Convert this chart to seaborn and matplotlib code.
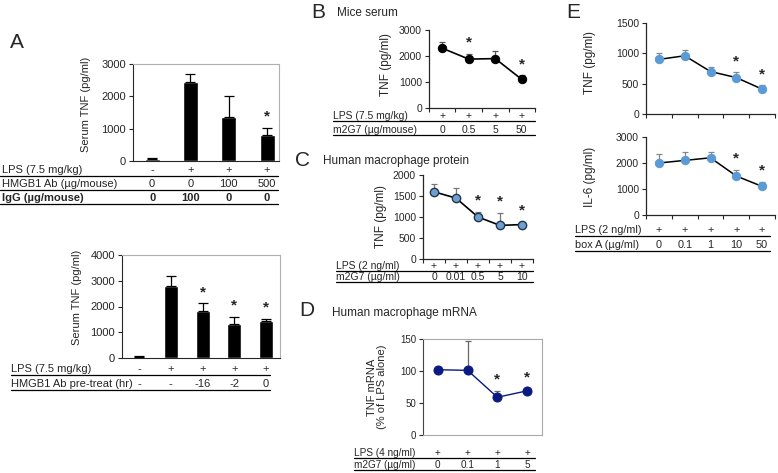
import numpy as np
import matplotlib
matplotlib.use('Agg')
import matplotlib.pyplot as plt
from matplotlib.lines import Line2D
from matplotlib.transforms import blended_transform_factory
import seaborn as sns

sns.set_style('ticks')
plt.rcParams['font.family'] = ['Liberation Sans', 'DejaVu Sans']

# ---- data ----
a1_tnf = [70, 2430, 1370, 800]
a1_err = [20, 250, 630, 220]
a1_lps = ['-', '+', '+', '+']
a1_ab = ['0', '0', '100', '500']
a1_igg = ['0', '100', '0', '0']
a1_sig = [3]

a2_tnf = [50, 2800, 1830, 1330, 1420]
a2_err = [10, 380, 300, 280, 100]
a2_lps = ['-', '+', '+', '+', '+']
a2_pre = ['-', '-', '-16', '-2', '0']
a2_sig = [2, 3, 4]

b_tnf = [2300, 1880, 1900, 1100]
b_err = [250, 200, 280, 150]
b_lps = ['+', '+', '+', '+']
b_dose = ['0', '0.5', '5', '50']
b_sig = [1, 3]

c_tnf = [1600, 1450, 1000, 800, 820]
c_err = [180, 230, 120, 300, 60]
c_lps = ['+', '+', '+', '+', '+']
c_dose = ['0', '0.01', '0.5', '5', '10']
c_sig = [2, 3, 4]

d_mrna = [102, 101, 59, 69]
d_err = [3, 46, 10, 3]
d_lps = ['+', '+', '+', '+']
d_dose = ['0', '0.1', '1', '5']
d_sig = [2, 3]

e_tnf = [900, 960, 700, 600, 410]
e_tnf_err = [100, 90, 80, 90, 60]
e_il6 = [2000, 2100, 2200, 1500, 1100]
e_il6_err = [330, 330, 220, 230, 180]
e_lps = ['+', '+', '+', '+', '+']
e_dose = ['0', '0.1', '1', '10', '50']
e_sig = [3, 4]

W, H = 778, 473
fig = plt.figure(figsize=(W / 100, H / 100), dpi=100)


def box(x0, y0, x1, y1):
    return [x0 / W, 1 - y1 / H, (x1 - x0) / W, (y1 - y0) / H]


def ftext(x, y, s, **kw):
    fig.text(x / W, 1 - y / H, s, **kw)


def hline(x0, x1, y, color='black', lw=0.9):
    fig.add_artist(Line2D([x0 / W, x1 / W], [1 - y / H] * 2, color=color, lw=lw))


def row(ax, y, values, size, **kw):
    trans = blended_transform_factory(ax.transData, fig.transFigure)
    for i, v in enumerate(values):
        ax.text(i, 1 - y / H, v, transform=trans, ha='center', va='center', fontsize=size, **kw)


def stars(ax, vals, errs, sig, off=3):
    for i in sig:
        ax.annotate('*', (i, vals[i] + errs[i]), xytext=(0, off), textcoords='offset points',
                    ha='center', va='bottom', fontsize=11, fontweight='bold')


def upper_err(ax, vals, errs, color, cap=3, lw=0.9):
    n = len(vals)
    ax.errorbar(np.arange(n), vals, yerr=[np.zeros(n), errs], fmt='none', ecolor=color,
                elinewidth=lw, capsize=cap, capthick=lw, zorder=1)


def excel_axes(ax, n, ylim, yticks, size):
    ax.set_xlim(-0.5, n - 0.5)
    ax.set_ylim(*ylim)
    ax.set_yticks(yticks)
    ax.set_xticks(np.arange(n + 1) - 0.5)
    ax.set_xticklabels([])
    ax.tick_params(axis='both', direction='out', length=3, width=0.8, labelsize=size, pad=2)
    sns.despine(ax=ax)
    for s in ['left', 'bottom']:
        ax.spines[s].set_linewidth(0.9)
    ax.set_xlabel('')
    ax.set_ylabel('')


# ---- panel A, top ----
ax = fig.add_axes(box(133, 64, 279, 161))
sns.barplot(x=list(range(len(a1_tnf))), y=a1_tnf, color='black', width=0.39,
            saturation=1, errorbar=None, ax=ax)
upper_err(ax, a1_tnf, a1_err, 'black', cap=3.5)
ax.set_xlim(-0.5, 3.31)
ax.set_ylim(0, 3000)
ax.set_yticks([0, 1000, 2000, 3000])
ax.set_xticks([])
ax.tick_params(axis='y', length=3, labelsize=8, pad=2)
for s in ['top', 'right']:
    ax.spines[s].set_color('#b0b0b0')
stars(ax, a1_tnf, a1_err, a1_sig)
ax.set_ylabel('')
ftext(86, 104, 'Serum TNF (pg/ml)', rotation=90, ha='center', va='center', fontsize=8)
ftext(17, 43, 'A', fontsize=15, ha='center', va='center')
ftext(2, 170, 'LPS (7.5 mg/kg)', fontsize=8, va='center')
ftext(2, 184, 'HMGB1 Ab (µg/mouse)', fontsize=8, va='center')
ftext(2, 198, 'IgG (µg/mouse)', fontsize=8, va='center', fontweight='bold')
row(ax, 170, a1_lps, 8)
row(ax, 184, a1_ab, 8)
row(ax, 198, a1_igg, 8, fontweight='bold')
hline(0, 278, 176)
hline(0, 278, 190)
hline(0, 278, 204)

# ---- panel A, bottom ----
ax = fig.add_axes(box(122, 255, 280, 358))
sns.barplot(x=list(range(len(a2_tnf))), y=a2_tnf, color='black', width=0.44,
            saturation=1, errorbar=None, ax=ax)
upper_err(ax, a2_tnf, a2_err, 'black', cap=3.5)
ax.set_xlim(-0.54, 4.44)
ax.set_ylim(0, 4000)
ax.set_yticks([0, 1000, 2000, 3000, 4000])
ax.set_xticks([])
ax.tick_params(axis='y', length=3, labelsize=8, pad=2)
for s in ['top', 'right']:
    ax.spines[s].set_color('#b0b0b0')
stars(ax, a2_tnf, a2_err, a2_sig)
ax.set_ylabel('')
ftext(77, 297, 'Serum TNF (pg/ml)', rotation=90, ha='center', va='center', fontsize=8)
ftext(11, 369, 'LPS (7.5 mg/kg)', fontsize=8, va='center')
ftext(11, 384, 'HMGB1 Ab pre-treat (hr)', fontsize=8, va='center')
row(ax, 369, a2_lps, 8)
row(ax, 384, a2_pre, 8)
hline(11, 270, 375)
hline(11, 270, 390)

# ---- panel B ----
ax = fig.add_axes(box(429, 30, 535, 108))
upper_err(ax, b_tnf, b_err, '#555555', cap=2.5)
sns.lineplot(x=np.arange(len(b_tnf)), y=b_tnf, color='black', marker='o', markersize=6,
             markeredgecolor='black', lw=1.2, ax=ax)
excel_axes(ax, len(b_tnf), (0, 3000), [0, 1000, 2000, 3000], 7.5)
stars(ax, b_tnf, b_err, b_sig)
ftext(318, 12, 'B', fontsize=15, ha='center', va='center')
ftext(337, 13, 'Mice serum', fontsize=8.5, va='center')
ftext(386, 65, 'TNF (pg/ml)', rotation=90, ha='center', va='center', fontsize=8.5)
ftext(333, 116, 'LPS (7.5 mg/kg)', fontsize=7.5, va='center')
ftext(333, 130, 'm2G7 (µg/mouse)', fontsize=7.5, va='center')
row(ax, 116, b_lps, 7.5)
row(ax, 130, b_dose, 7.5)
hline(333, 535, 121)
hline(333, 535, 135)

# ---- panel C ----
ax = fig.add_axes(box(423, 175, 533, 259))
upper_err(ax, c_tnf, c_err, '#777777', cap=2.5)
sns.lineplot(x=np.arange(len(c_tnf)), y=c_tnf, color='black', marker='o', markersize=6,
             markerfacecolor='#6f9fcf', markeredgecolor='#22364f', markeredgewidth=1,
             lw=1.2, ax=ax)
excel_axes(ax, len(c_tnf), (0, 2000), [0, 500, 1000, 1500, 2000], 7.5)
stars(ax, c_tnf, c_err, c_sig)
ftext(303, 160, 'C', fontsize=15, ha='center', va='center')
ftext(323, 161, 'Human macrophage protein', fontsize=8.5, va='center')
ftext(381, 217, 'TNF (pg/ml)', rotation=90, ha='center', va='center', fontsize=8.5)
ftext(336, 266, 'LPS (2 ng/ml)', fontsize=7.5, va='center')
ftext(336, 277, 'm2G7 (µg/ml)', fontsize=7.5, va='center')
row(ax, 266, c_lps, 7.5)
row(ax, 277, c_dose, 7.5)
hline(336, 533, 271)
hline(336, 533, 282)

# ---- panel D ----
ax = fig.add_axes(box(423, 339, 542, 435))
upper_err(ax, d_mrna, d_err, '#666666', cap=2.5)
sns.lineplot(x=np.arange(len(d_mrna)), y=d_mrna, color='#0a1a80', marker='o', markersize=6.5,
             markeredgecolor='#0a1a80', lw=1, ax=ax)
ax.set_xlim(-0.5, 3.5)
ax.set_ylim(0, 150)
ax.set_yticks([0, 50, 100, 150])
ax.set_xticks([])
ax.tick_params(axis='y', length=3, labelsize=7, pad=2)
for s in ['top', 'right', 'bottom']:
    ax.spines[s].set_color('#a8a8a8')
ax.spines['left'].set_color('#444444')
stars(ax, d_mrna, d_err, d_sig)
ftext(307, 311, 'D', fontsize=15, ha='center', va='center')
ftext(332, 313, 'Human macrophage mRNA', fontsize=8.5, va='center')
ftext(377, 387, 'TNF mRNA\n(% of LPS alone)', rotation=90, ha='center', va='center',
      fontsize=8, linespacing=1.1)
ftext(354, 453, 'LPS (4 ng/ml)', fontsize=7.2, va='center')
ftext(354, 465, 'm2G7 (µg/ml)', fontsize=7.2, va='center')
row(ax, 453, d_lps, 7.2)
row(ax, 465, d_dose, 7.2)
hline(354, 535, 458)
hline(354, 535, 470)

# ---- panel E ----
ax = fig.add_axes(box(646, 23, 775, 114))
upper_err(ax, e_tnf, e_tnf_err, '#888888', cap=2.5)
sns.lineplot(x=np.arange(len(e_tnf)), y=e_tnf, color='black', marker='o', markersize=6,
             markerfacecolor='#5b9bd5', markeredgecolor='#5b9bd5', lw=1.1, ax=ax)
excel_axes(ax, len(e_tnf), (0, 1500), [0, 500, 1000, 1500], 7.5)
stars(ax, e_tnf, e_tnf_err, e_sig)
ftext(590, 63, 'TNF (pg/ml)', rotation=90, ha='center', va='center', fontsize=8.5)
ftext(573, 12, 'E', fontsize=15, ha='center', va='center')

ax = fig.add_axes(box(646, 137, 775, 215))
upper_err(ax, e_il6, e_il6_err, '#888888', cap=2.5)
sns.lineplot(x=np.arange(len(e_il6)), y=e_il6, color='black', marker='o', markersize=6,
             markerfacecolor='#5b9bd5', markeredgecolor='#5b9bd5', lw=1.1, ax=ax)
excel_axes(ax, len(e_il6), (0, 3000), [0, 1000, 2000, 3000], 7.5)
stars(ax, e_il6, e_il6_err, e_sig)
ftext(590, 177, 'IL-6 (pg/ml)', rotation=90, ha='center', va='center', fontsize=8.5)
ftext(575, 230, 'LPS (2 ng/ml)', fontsize=7.8, va='center')
ftext(575, 245, 'box A (µg/ml)', fontsize=7.8, va='center')
row(ax, 230, e_lps, 7.8)
row(ax, 245, e_dose, 7.8)
hline(575, 770, 236)
hline(575, 770, 251)

fig.savefig('out.png', dpi=100)
